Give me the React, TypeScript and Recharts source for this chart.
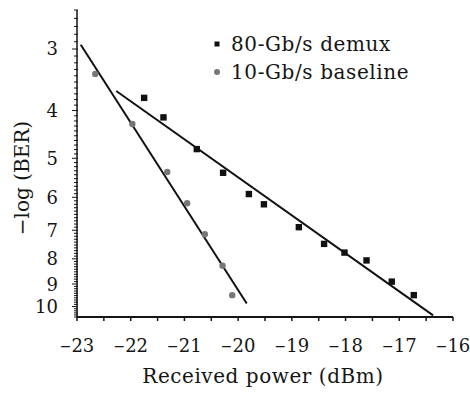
import React from 'react';
import { ComposedChart, Scatter, Line, XAxis, YAxis, Legend } from 'recharts';

// 80-Gb/s demux measurements
const demuxPower = [-21.75, -21.39, -20.77, -20.28, -19.8, -19.52, -18.87, -18.4, -18.02, -17.61, -17.14, -16.73];
const demuxBer = [3.77, 4.13, 4.79, 5.35, 5.91, 6.2, 6.9, 7.46, 7.77, 8.06, 8.9, 9.48];

// 10-Gb/s baseline measurements
const basePower = [-22.66, -21.97, -21.32, -20.95, -20.62, -20.29, -20.11];
const baseBer = [3.37, 4.26, 5.33, 6.17, 7.13, 8.26, 9.48];

// fitted lines (end points)
const demuxFitPower = [-22.27, -16.37];
const demuxFitBer = [3.65, 10.42];
const baseFitPower = [-22.93, -19.84];
const baseFitBer = [2.94, 9.86];

const xMajorTicks = [-23, -22, -21, -20, -19, -18, -17, -16];
const yMajorTicks = [3, 4, 5, 6, 7, 8, 9, 10];

const seriesNames = ['80-Gb/s demux', '10-Gb/s baseline'];

const zip = (xs: number[], ys: number[]) => xs.map((x, i) => ({ x, y: ys[i] }));

const demuxData = zip(demuxPower, demuxBer);
const baseData = zip(basePower, baseBer);
const demuxFit = zip(demuxFitPower, demuxFitBer);
const baseFit = zip(baseFitPower, baseFitBer);

// minor ticks: 0.5 dBm on x, 0.1 on y
const xTicks: number[] = [];
for (let v = -230; v <= -160; v += 5) xTicks.push(v / 10);
const yTicks: number[] = [];
for (let v = 25; v <= 105; v += 1) yTicks.push(v / 10);

const FONT = '"DejaVu Serif", serif';
const INK = '#151515';

const isMajor = (v: number, list: number[]) => list.some((m) => Math.abs(m - v) < 1e-6);

const YTick = (props: any) => {
  const { x, y, payload } = props;
  const v = payload.value;
  const major = isMajor(v, yMajorTicks);
  return (
    <g>
      <line x1={major ? x - 5 : x - 3} x2={x + 1} y1={y} y2={y} stroke={INK} strokeWidth={1} />
      {major && (
        <text x={x - 19} y={y} dy="0.36em" textAnchor="end" fontFamily={FONT} fontSize={18} fill={INK}>
          {v}
        </text>
      )}
    </g>
  );
};

const XTick = (props: any) => {
  const { x, y, payload } = props;
  const v = payload.value;
  const major = isMajor(v, xMajorTicks);
  return (
    <g>
      <line x1={x} x2={x} y1={y} y2={y + 4} stroke={INK} strokeWidth={1.5} />
      {major && (
        <text x={x} y={y + 35} textAnchor="middle" fontFamily={FONT} fontSize={18} fill={INK}>
          <tspan fontSize={14} dy={-1.5}>{'\u2212'}</tspan>
          <tspan dy={1.5}>{Math.abs(v)}</tspan>
        </text>
      )}
    </g>
  );
};

const Square = (props: any) => {
  const { cx, cy } = props;
  return <rect x={cx - 3.2} y={cy - 3.2} width={6.4} height={6.4} fill="#111" />;
};

const Dot = (props: any) => {
  const { cx, cy } = props;
  return <circle cx={cx} cy={cy} r={3.2} fill="#777" />;
};

const LegendBox = () => (
  <div style={{ fontFamily: FONT, fontSize: 20, letterSpacing: 0.6, color: INK, lineHeight: '28px' }}>
    {seriesNames.map((name, i) => (
      <div key={name} style={{ display: 'flex', alignItems: 'center', height: 28 }}>
        <svg width={19} height={10}>
          {i === 0 ? <rect x={2.5} y={2.5} width={5} height={5} fill="#111" /> : <circle cx={5} cy={5} r={3} fill="#777" />}
        </svg>
        <span>{name}</span>
      </div>
    ))}
  </div>
);

export default function App() {
  return (
    <div style={{ position: 'absolute', left: 0, top: 0, width: 470, height: 394, background: '#fff' }}>
      <ComposedChart width={470} height={394} margin={{ top: 10, right: 17, bottom: 0, left: 0 }}>
        <XAxis
          type="number"
          dataKey="x"
          domain={[-23, -16]}
          ticks={xTicks}
          interval={0}
          tickSize={0}
          tickMargin={0}
          tickLine={false}
          tick={<XTick />}
          height={77}
          axisLine={{ stroke: INK, strokeWidth: 2 }}
          allowDataOverflow
          label={{
            content: () => (
              <text x={263} y={383} textAnchor="middle" fontFamily={FONT} fontSize={20} letterSpacing={0.55} fill={INK}>
                Received power (dBm)
              </text>
            ),
          }}
        />
        <YAxis
          type="number"
          dataKey="y"
          scale="log"
          domain={[2.5, 10.5]}
          reversed
          ticks={yTicks}
          interval={0}
          tickSize={0}
          tickMargin={0}
          tickLine={false}
          tick={<YTick />}
          width={77}
          axisLine={{ stroke: INK, strokeWidth: 1.5 }}
          allowDataOverflow
          label={{
            content: () => (
              <text
                x={22}
                y={178}
                transform="rotate(-90, 22, 178)"
                textAnchor="middle"
                dy="0.36em"
                fontFamily={FONT}
                fontSize={20}
                fill={INK}
              >
                {'\u2212log (BER)'}
              </text>
            ),
          }}
        />
        <Legend
          layout="vertical"
          verticalAlign="middle"
          align="center"
          wrapperStyle={{ left: 212, top: 30, width: 'auto' }}
          content={<LegendBox />}
        />
        <Line data={baseFit} dataKey="y" stroke="#111" strokeWidth={2} dot={false} isAnimationActive={false} legendType="none" />
        <Line data={demuxFit} dataKey="y" stroke="#111" strokeWidth={2} dot={false} isAnimationActive={false} legendType="none" />
        <Scatter name={seriesNames[0]} data={demuxData} dataKey="y" shape={<Square />} isAnimationActive={false} />
        <Scatter name={seriesNames[1]} data={baseData} dataKey="y" shape={<Dot />} isAnimationActive={false} />
      </ComposedChart>
    </div>
  );
}
